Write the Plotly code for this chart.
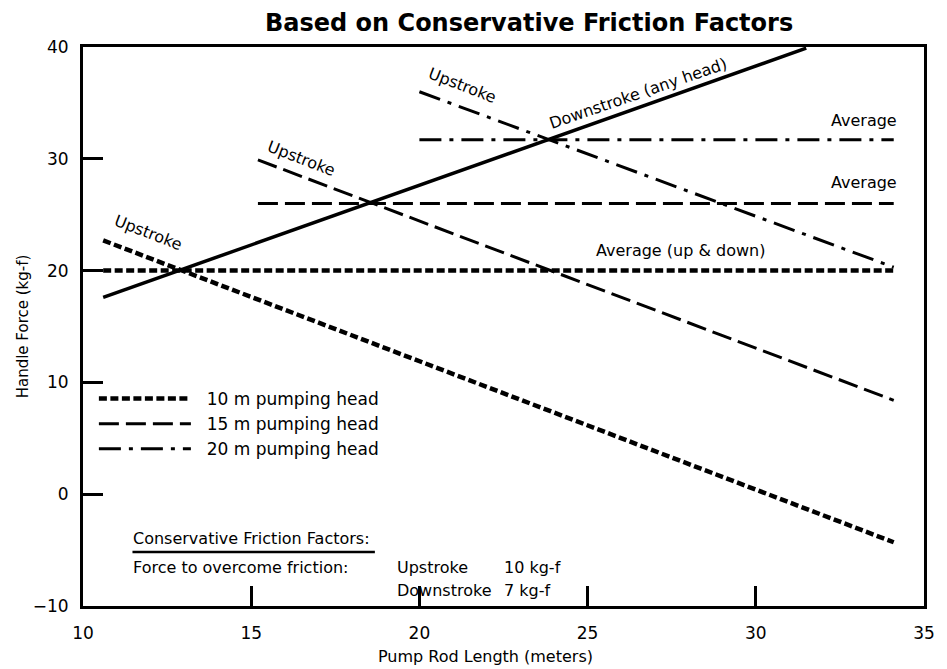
import plotly.graph_objects as go

# ---- data ----
rod_down = [10.6, 31.5]
force_down = [17.6, 39.9]

rod_10 = [10.6, 34.1]
up_10 = [22.7, -4.3]
avg_10 = [20.0, 20.0]

rod_15 = [15.2, 34.1]
up_15 = [29.9, 8.4]
avg_15 = [26.0, 26.0]

rod_20 = [20.0, 34.1]
up_20 = [36.0, 20.3]
avg_20 = [31.7, 31.7]

x_ticks = [10, 15, 20, 25, 30, 35]
y_ticks = [-10, 0, 10, 20, 30, 40]

FONT = "DejaVu Sans"
dash10 = "8px,3.5px"
dash15 = "20px,7px"
dash20 = "22px,8px,4px,8px"
NB = "\u00a0\u00a0"

fig = go.Figure()
fig.add_trace(go.Scatter(x=rod_10, y=up_10, mode="lines", name=NB + "10 m pumping head",
                         line=dict(color="black", width=4.5, dash=dash10)))
fig.add_trace(go.Scatter(x=rod_10, y=avg_10, mode="lines", showlegend=False,
                         line=dict(color="black", width=4.5, dash=dash10)))
fig.add_trace(go.Scatter(x=rod_15, y=up_15, mode="lines", name=NB + "15 m pumping head",
                         line=dict(color="black", width=3, dash=dash15)))
fig.add_trace(go.Scatter(x=rod_15, y=avg_15, mode="lines", showlegend=False,
                         line=dict(color="black", width=3, dash=dash15)))
fig.add_trace(go.Scatter(x=rod_20, y=up_20, mode="lines", name=NB + "20 m pumping head",
                         line=dict(color="black", width=3, dash=dash20)))
fig.add_trace(go.Scatter(x=rod_20, y=avg_20, mode="lines", showlegend=False,
                         line=dict(color="black", width=3, dash=dash20)))
fig.add_trace(go.Scatter(x=rod_down, y=force_down, mode="lines", showlegend=False,
                         line=dict(color="black", width=3.5)))

tf = dict(family=FONT, size=16, color="black")
ann = [
    dict(x=11.94, y=23.45, text="Upstroke", textangle=21),
    dict(x=16.5, y=30.07, text="Upstroke", textangle=21),
    dict(x=21.29, y=36.6, text="Upstroke", textangle=21),
    dict(x=26.5, y=35.8, text="Downstroke (any head)", textangle=-19),
    dict(x=34.25, y=33.47, text="Average", xanchor="right"),
    dict(x=34.25, y=27.84, text="Average", xanchor="right"),
    dict(x=27.75, y=21.84, text="Average (up & down)"),
]
annotations = []
for a in ann:
    d = dict(xref="x", yref="y", showarrow=False, font=tf)
    d.update(a)
    annotations.append(d)

# pixel helpers (plot area spans x 83..933, y 47..606)
def px2paper_x(px):
    return (px - 83) / 850.0

def px2paper_y(py):
    return (606 - py) / 559.0

annotations += [
    dict(xref="paper", yref="paper", x=px2paper_x(132), y=px2paper_y(538),
         xanchor="left", yanchor="middle", text="Conservative Friction Factors:",
         showarrow=False, font=tf),
    dict(xref="paper", yref="paper", x=px2paper_x(132), y=px2paper_y(567),
         xanchor="left", yanchor="middle", text="Force to overcome friction:",
         showarrow=False, font=tf),
    dict(xref="paper", yref="paper", x=px2paper_x(398), y=px2paper_y(567),
         xanchor="left", yanchor="middle", text="Upstroke",
         showarrow=False, font=tf),
    dict(xref="paper", yref="paper", x=px2paper_x(506), y=px2paper_y(567),
         xanchor="left", yanchor="middle", text="10 kg-f",
         showarrow=False, font=tf),
    dict(xref="paper", yref="paper", x=px2paper_x(398), y=px2paper_y(590),
         xanchor="left", yanchor="middle", text="Downstroke",
         showarrow=False, font=tf),
    dict(xref="paper", yref="paper", x=px2paper_x(506), y=px2paper_y(590),
         xanchor="left", yanchor="middle", text="7 kg-f",
         showarrow=False, font=tf),
    dict(xref="paper", yref="paper", x=px2paper_x(534), y=px2paper_y(23),
         xanchor="center", yanchor="middle",
         text="<b>Based on Conservative Friction Factors</b>",
         showarrow=False, font=dict(family=FONT, size=24, color="black")),
    dict(xref="paper", yref="paper", x=px2paper_x(490), y=px2paper_y(656),
         xanchor="center", yanchor="middle",
         text="Pump Rod Length (meters)",
         showarrow=False, font=dict(family=FONT, size=16, color="black")),
]

shapes = [
    dict(type="line", xref="paper", yref="paper",
         x0=px2paper_x(133), x1=px2paper_x(378), y0=px2paper_y(552), y1=px2paper_y(552),
         line=dict(color="black", width=2.5)),
]

axis_common = dict(
    showgrid=False, zeroline=False, showline=True, linecolor="black", linewidth=3,
    mirror=True, ticks="inside", ticklen=20, tickwidth=2.5, tickcolor="black",
    tickfont=dict(family=FONT, size=17, color="black"),
)

fig.update_layout(
    width=947, height=669, autosize=False,
    margin=dict(l=83, r=14, t=47, b=63),
    paper_bgcolor="white", plot_bgcolor="white",
    showlegend=True,
    legend=dict(x=px2paper_x(94), y=px2paper_y(381), xanchor="left", yanchor="top",
                bgcolor="rgba(0,0,0,0)", font=dict(family=FONT, size=17, color="black"),
                itemwidth=92, tracegroupgap=0),
    xaxis=dict(range=[10, 35], tickvals=x_ticks, ticklabelstandoff=10, **axis_common),
    yaxis=dict(range=[-10, 40], tickvals=y_ticks, ticklabelstandoff=8,
               title=dict(text="Handle Force (kg-f)", standoff=1,
                          font=dict(family=FONT, size=15, color="black")),
               **axis_common),
    annotations=annotations,
    shapes=shapes,
)

# remove the default 8px page margin so the figure fills the window exactly
fig.write_html("out.html",
               config={"responsive": False, "displayModeBar": False},
               post_script="document.body.style.margin='0';"
                           "document.body.style.overflow='hidden';")
